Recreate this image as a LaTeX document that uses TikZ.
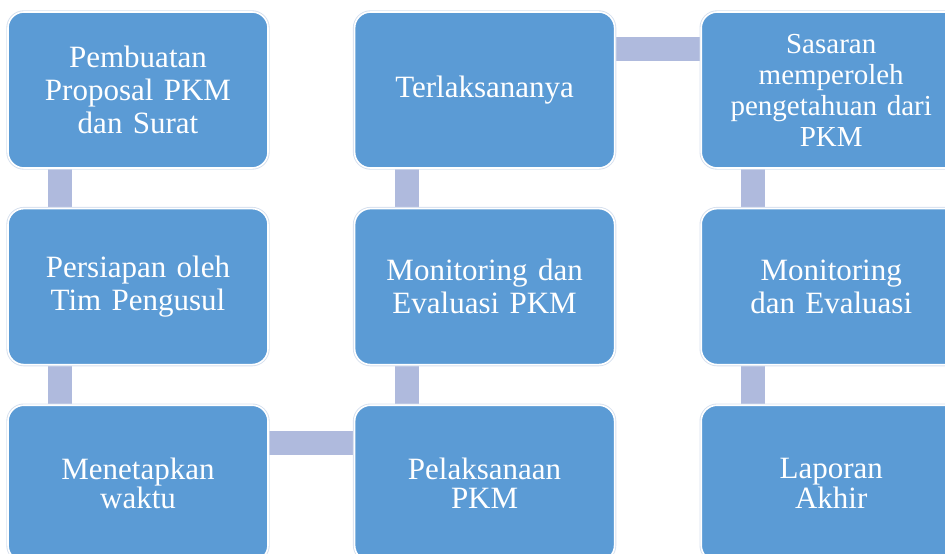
\documentclass[tikz,border=0pt]{standalone}
\usepackage{fontspec}
\setmainfont{Liberation Serif}
\usetikzlibrary{positioning, backgrounds}
\definecolor{boxcolor}{RGB}{91,155,213}
\definecolor{linkcolor}{RGB}{175,186,221}
\definecolor{halocolor}{RGB}{214,224,238}
\tikzset{
  phase/.style={
    rectangle,
    rounded corners=16pt,
    minimum width=260pt,
    minimum height=156pt,
    text width=250pt,
    align=center,
    inner sep=0pt,
    fill=boxcolor,
    draw=white,
    line width=1.6pt,
    preaction={draw=halocolor, line width=3.4pt},
    text=white,
    font=\fontsize{31}{33}\selectfont
  },
  link/.style={
    linkcolor,
    line width=24pt
  }
}

\begin{document}
\begin{tikzpicture}[x=1pt, y=-1pt, node distance=39pt and 85pt]

\useasboundingbox (0,0) rectangle (945,554);
\clip (0,0) rectangle (945,554);

% Nodes
\node[phase] (pembuatan) at (138,90) {Pembuatan\\Proposal PKM\\dan Surat};
\node[phase, below=of pembuatan] (persiapan) {Persiapan oleh\\Tim Pengusul};
\node[phase, below=of persiapan, font=\fontsize{31}{29}\selectfont] (menetapkan) {Menetapkan\\waktu};

\node[phase, right=of menetapkan, font=\fontsize{31}{29}\selectfont] (pelaksanaan) {Pelaksanaan\\PKM};
\node[phase, right=of persiapan] (monev) {Monitoring dan\\Evaluasi PKM};
\node[phase, right=of pembuatan] (terlaksana) {Terlaksananya};

\node[phase, right=of terlaksana, font=\fontsize{29}{31}\selectfont] (sasaran) {Sasaran\\memperoleh\\pengetahuan dari\\PKM};
\node[phase, below=of sasaran] (evaluasi) {Monitoring\\dan Evaluasi};
\node[phase, below=of evaluasi, font=\fontsize{31}{30}\selectfont] (laporan) {Laporan\\Akhir};

% Connecting bars
\begin{scope}[on background layer]
\draw[link] ([xshift=53pt]pembuatan.south west) -- ([xshift=53pt]persiapan.north west);
\draw[link] ([xshift=53pt]persiapan.south west) -- ([xshift=53pt]menetapkan.north west);
\draw[link] ([yshift=-39pt]menetapkan.north east) -- ([yshift=-39pt]pelaksanaan.north west);
\draw[link] ([xshift=53pt]pelaksanaan.north west) -- ([xshift=53pt]monev.south west);
\draw[link] ([xshift=53pt]monev.north west) -- ([xshift=53pt]terlaksana.south west);
\draw[link] ([yshift=-38pt]terlaksana.north east) -- ([yshift=-38pt]sasaran.north west);
\draw[link] ([xshift=53pt]sasaran.south west) -- ([xshift=53pt]evaluasi.north west);
\draw[link] ([xshift=53pt]evaluasi.south west) -- ([xshift=53pt]laporan.north west);
\end{scope}

\end{tikzpicture}
\end{document}
